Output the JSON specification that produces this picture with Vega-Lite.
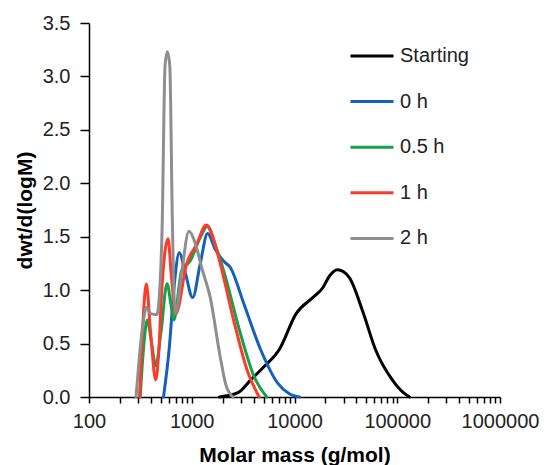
{
  "$schema": "https://vega.github.io/schema/vega-lite/v6.json",
  "width": 411,
  "height": 374,
  "autosize": "none",
  "padding": {"left": 89, "top": 23, "right": 47, "bottom": 68},
  "background": "white",
  "config": {
    "view": {"stroke": null},
    "font": "Liberation Sans",
    "axis": {"grid": false, "domainColor": "#000", "domainWidth": 1.5, "tickColor": "#000", "tickWidth": 1.5, "labelColor": "#222", "titleColor": "#000", "labelFont": "Liberation Sans", "titleFont": "Liberation Sans"}
  },
  "data": {"values": [
    {"s": "Starting", "M": 1862, "v": 0},
    {"s": "Starting", "M": 2818, "v": 0.04},
    {"s": "Starting", "M": 3750, "v": 0.16},
    {"s": "Starting", "M": 5012, "v": 0.28},
    {"s": "Starting", "M": 7161, "v": 0.45},
    {"s": "Starting", "M": 10375, "v": 0.78},
    {"s": "Starting", "M": 15031, "v": 0.93},
    {"s": "Starting", "M": 18793, "v": 1.02},
    {"s": "Starting", "M": 21827, "v": 1.13},
    {"s": "Starting", "M": 26242, "v": 1.19},
    {"s": "Starting", "M": 34041, "v": 1.12},
    {"s": "Starting", "M": 45815, "v": 0.81},
    {"s": "Starting", "M": 61660, "v": 0.44},
    {"s": "Starting", "M": 89537, "v": 0.16},
    {"s": "Starting", "M": 114815, "v": 0.04},
    {"s": "Starting", "M": 131826, "v": 0},
    {"s": "0 h", "M": 531, "v": 0},
    {"s": "0 h", "M": 603, "v": 0.45},
    {"s": "0 h", "M": 676, "v": 1.05},
    {"s": "0 h", "M": 755, "v": 1.35},
    {"s": "0 h", "M": 871, "v": 1.15},
    {"s": "0 h", "M": 1021, "v": 0.93},
    {"s": "0 h", "M": 1208, "v": 1.245},
    {"s": "0 h", "M": 1426, "v": 1.53},
    {"s": "0 h", "M": 1698, "v": 1.38},
    {"s": "0 h", "M": 2046, "v": 1.27},
    {"s": "0 h", "M": 2382, "v": 1.21},
    {"s": "0 h", "M": 3221, "v": 0.87},
    {"s": "0 h", "M": 4699, "v": 0.44},
    {"s": "0 h", "M": 6855, "v": 0.13},
    {"s": "0 h", "M": 8913, "v": 0.03},
    {"s": "0 h", "M": 11220, "v": 0},
    {"s": "0.5 h", "M": 315, "v": 0},
    {"s": "0.5 h", "M": 339, "v": 0.45},
    {"s": "0.5 h", "M": 369, "v": 0.72},
    {"s": "0.5 h", "M": 407, "v": 0.5},
    {"s": "0.5 h", "M": 446, "v": 0.29},
    {"s": "0.5 h", "M": 501, "v": 0.6},
    {"s": "0.5 h", "M": 575, "v": 1.06},
    {"s": "0.5 h", "M": 631, "v": 0.85},
    {"s": "0.5 h", "M": 670, "v": 0.72},
    {"s": "0.5 h", "M": 796, "v": 1.18},
    {"s": "0.5 h", "M": 962, "v": 1.27},
    {"s": "0.5 h", "M": 1208, "v": 1.49},
    {"s": "0.5 h", "M": 1426, "v": 1.6},
    {"s": "0.5 h", "M": 1698, "v": 1.42},
    {"s": "0.5 h", "M": 2046, "v": 1.18},
    {"s": "0.5 h", "M": 2985, "v": 0.59},
    {"s": "0.5 h", "M": 4046, "v": 0.19},
    {"s": "0.5 h", "M": 5370, "v": 0},
    {"s": "1 h", "M": 310, "v": 0},
    {"s": "1 h", "M": 331, "v": 0.6},
    {"s": "1 h", "M": 361, "v": 1.06},
    {"s": "1 h", "M": 398, "v": 0.6},
    {"s": "1 h", "M": 446, "v": 0.16},
    {"s": "1 h", "M": 479, "v": 0.45},
    {"s": "1 h", "M": 506, "v": 0.93},
    {"s": "1 h", "M": 589, "v": 1.48},
    {"s": "1 h", "M": 631, "v": 1.15},
    {"s": "1 h", "M": 700, "v": 0.78},
    {"s": "1 h", "M": 891, "v": 1.245},
    {"s": "1 h", "M": 1119, "v": 1.43},
    {"s": "1 h", "M": 1384, "v": 1.61},
    {"s": "1 h", "M": 1622, "v": 1.48},
    {"s": "1 h", "M": 1897, "v": 1.245},
    {"s": "1 h", "M": 2570, "v": 0.71},
    {"s": "1 h", "M": 3475, "v": 0.245},
    {"s": "1 h", "M": 4529, "v": 0},
    {"s": "2 h", "M": 287, "v": 0},
    {"s": "2 h", "M": 339, "v": 0.72},
    {"s": "2 h", "M": 361, "v": 0.84},
    {"s": "2 h", "M": 398, "v": 0.78},
    {"s": "2 h", "M": 457, "v": 0.77},
    {"s": "2 h", "M": 484, "v": 0.95},
    {"s": "2 h", "M": 514, "v": 1.55},
    {"s": "2 h", "M": 550, "v": 3.1},
    {"s": "2 h", "M": 579, "v": 3.23},
    {"s": "2 h", "M": 611, "v": 3.1},
    {"s": "2 h", "M": 650, "v": 1.55},
    {"s": "2 h", "M": 676, "v": 0.9},
    {"s": "2 h", "M": 700, "v": 0.79},
    {"s": "2 h", "M": 794, "v": 1.15},
    {"s": "2 h", "M": 940, "v": 1.55},
    {"s": "2 h", "M": 1072, "v": 1.45},
    {"s": "2 h", "M": 1259, "v": 1.2},
    {"s": "2 h", "M": 1514, "v": 0.93},
    {"s": "2 h", "M": 1897, "v": 0.37},
    {"s": "2 h", "M": 2138, "v": 0.12},
    {"s": "2 h", "M": 2512, "v": 0}
  ]},
  "mark": {"type": "line", "interpolate": "monotone", "strokeWidth": 3, "strokeJoin": "round", "strokeCap": "round"},
  "encoding": {
    "x": {
      "field": "M", "type": "quantitative",
      "scale": {"type": "log", "domain": [100, 1000000], "nice": false},
      "axis": {
        "title": "Molar mass (g/mol)",
        "titleFontSize": 21, "titleFontWeight": "bold",
        "titleBaseline": "alphabetic", "titleY": 64,
        "labelFontSize": 20, "labelPadding": 8, "tickSize": 6,
        "format": "d",
        "labelExpr": "test(/^10*$/, datum.label) ? datum.label : ''",
        "labelOverlap": false, "labelFlush": false,
        "values": [100,200,300,400,500,600,700,800,900,1000,2000,3000,4000,5000,6000,7000,8000,9000,10000,20000,30000,40000,50000,60000,70000,80000,90000,100000,200000,300000,400000,500000,600000,700000,800000,900000,1000000]
      }
    },
    "y": {
      "field": "v", "type": "quantitative",
      "scale": {"domain": [0, 3.5], "nice": false},
      "axis": {
        "title": "dwt/d(logM)",
        "titleFontSize": 21, "titleFontWeight": "bold",
        "titleX": -64, "titleBaseline": "middle",
        "labelFontSize": 20, "labelPadding": 10, "tickSize": 9,
        "format": ".1f",
        "values": [0, 0.5, 1, 1.5, 2, 2.5, 3, 3.5]
      }
    },
    "color": {
      "field": "s", "type": "nominal",
      "scale": {"domain": ["Starting", "0 h", "0.5 h", "1 h", "2 h"], "range": ["#000000", "#1560BD", "#13A24B", "#FF3A2A", "#8E8E8E"]},
      "legend": {
        "title": null, "orient": "none", "legendX": 260, "legendY": 10,
        "symbolType": "stroke", "symbolSize": 1849, "symbolStrokeWidth": 3,
        "labelFontSize": 20, "labelFont": "Liberation Sans", "labelColor": "#222",
        "labelOffset": 5, "rowPadding": 12.6, "padding": 0
      }
    }
  }
}
